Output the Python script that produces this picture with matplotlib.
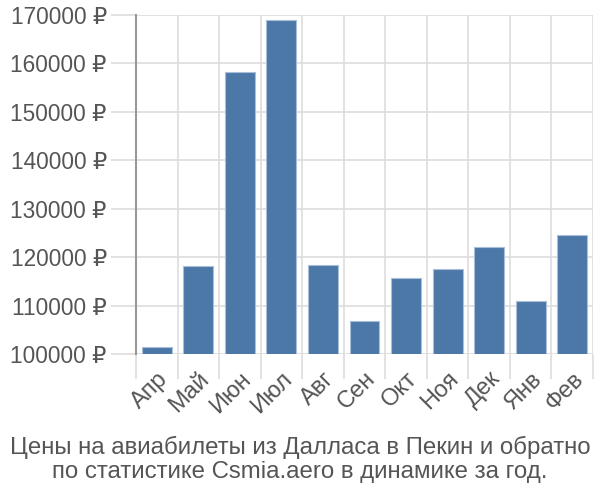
import matplotlib
matplotlib.use('Agg')
import matplotlib.pyplot as plt

months = ['Апр', 'Май', 'Июн', 'Июл', 'Авг', 'Сен', 'Окт', 'Ноя', 'Дек', 'Янв', 'Фев']
prices = [101500, 118100, 158200, 169000, 118300, 106900, 115700, 117600, 122100, 111000, 124500]
yticks = [100000, 110000, 120000, 130000, 140000, 150000, 160000, 170000]
title = 'Цены на авиабилеты из Далласа в Пекин и обратно\nпо статистике Csmia.aero в динамике за год.'

plt.rcParams['font.family'] = ['Liberation Sans', 'DejaVu Sans']

fig = plt.figure(figsize=(6, 5), dpi=100)
ax = fig.add_axes([136 / 600, 1 - 354 / 500, 457 / 600, 339 / 500])

x = list(range(len(months)))
ax.bar(x, prices, width=0.72, bottom=0, color='#4c78a8', edgecolor='#a9bfd8', linewidth=0.8, zorder=3)

ax.set_xlim(-0.5, len(months) - 0.5)
ax.set_ylim(100000, 170000)
ax.set_yticks(yticks)
ax.set_yticklabels([f'{v} ₽' for v in yticks])

# vertical grid at category boundaries
ax.set_xticks([i - 0.5 for i in range(len(months) + 1)], minor=False)
ax.set_xticklabels([''] * (len(months) + 1))
ax.set_xticks(x, minor=True)
ax.set_xticklabels(months, minor=True, rotation=45, ha='right', rotation_mode='anchor')
ax.tick_params(axis='x', which='major', length=18, color='#dddddd', width=1.2)
ax.tick_params(axis='x', which='minor', length=0, pad=10, labelsize=17, labelcolor='#555555')
ax.tick_params(axis='y', length=18, color='#dddddd', width=1.2, labelsize=16.3, labelcolor='#555555', pad=3)

ax.grid(True, which='major', color='#dddddd', linewidth=1.2, zorder=0)
for s in ['top', 'right', 'bottom']:
    ax.spines[s].set_visible(False)
ax.spines['left'].set_color('#999999')
ax.spines['left'].set_linewidth(1.5)
ax.spines['left'].set_bounds(100000, 170000)

fig.text(0.5, 1 - 459.5 / 500, title, ha='center', va='center', fontsize=17.3, color='#555555', linespacing=1.07)

fig.savefig('out.png', dpi=100)
